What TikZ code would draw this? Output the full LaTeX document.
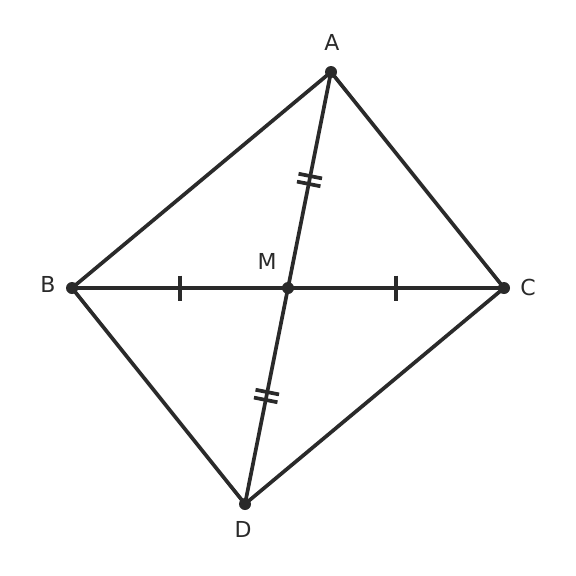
\documentclass[tikz,border=0pt]{standalone}
\usepackage{fontspec}
\setmainfont{DejaVu Sans}
\usetikzlibrary{calc}
\definecolor{ink}{HTML}{2A2A2A}

\begin{document}
\begin{tikzpicture}[x=1pt, y=-1pt, side/.style={line width=3.7pt, ink}, tick/.style={line width=3.7pt, ink}, dot/.style={circle, fill=ink, inner sep=0pt, minimum size=12pt}, lab/.style={ink, font=\fontsize{22}{22}\selectfont}]
			\useasboundingbox (0,0) rectangle (576,576);

			\coordinate (A) at (331,72);
			\coordinate (B) at (72,288);
			\coordinate (C) at (504,288);
			\coordinate (D) at (245,504);
			\coordinate (M) at (288,288);

			\node[lab] (pA) at ($(A) + (1,-30)$){A};
			\node[lab] (pB) at ($(B) + (-24,-4)$){B};
			\node[lab] (pC) at ($(C) + (24,-1)$){C};
			\node[lab] (pD) at ($(D) + (-2,25)$){D};
			\node[lab] (pM) at ($(M) + (-21,-27)$){M};

			\draw[side] (A) -- (B) -- (D) -- (C) -- cycle;
			\draw[side] (B) -- (C);
			\draw[side] (A) -- (D);

			% single ticks on BM and MC
			\coordinate (bm) at ($(B)!0.5!(M)$);
			\coordinate (mc) at ($(M)!0.5!(C)$);
			\draw[tick] ($(bm)!12.5pt!90:(M)$) -- ($(bm)!12.5pt!-90:(M)$);
			\draw[tick] ($(mc)!12.5pt!90:(C)$) -- ($(mc)!12.5pt!-90:(C)$);

			% double ticks on AM and MD
			\coordinate (am) at ($(A)!0.5!(M)$);
			\coordinate (md) at ($(M)!0.5!(D)$);
			\coordinate (am1) at ($(am)!4pt!(M)$);
			\coordinate (am2) at ($(am)!-4pt!(M)$);
			\coordinate (md1) at ($(md)!4pt!(D)$);
			\coordinate (md2) at ($(md)!-4pt!(D)$);
			\draw[tick] ($(am1)!12pt!90:(M)$) -- ($(am1)!12pt!-90:(M)$);
			\draw[tick] ($(am2)!12pt!90:(A)$) -- ($(am2)!12pt!-90:(A)$);
			\draw[tick] ($(md1)!12pt!90:(D)$) -- ($(md1)!12pt!-90:(D)$);
			\draw[tick] ($(md2)!12pt!90:(M)$) -- ($(md2)!12pt!-90:(M)$);

			\node[dot] (dA) at (A){};
			\node[dot] (dB) at (B){};
			\node[dot] (dC) at (C){};
			\node[dot] (dD) at (D){};
			\node[dot] (dM) at (M){};

		\end{tikzpicture}
\end{document}
